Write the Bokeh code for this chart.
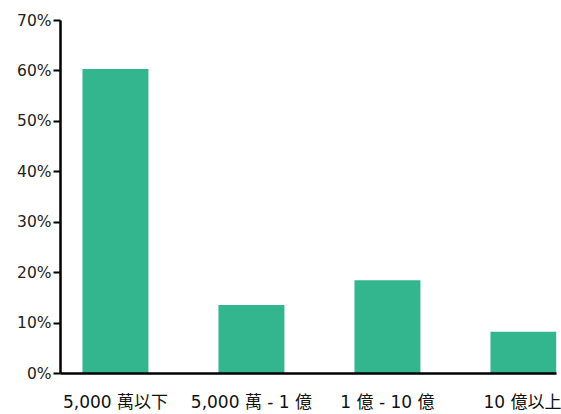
from bokeh.plotting import figure
from bokeh.models import Range1d, FixedTicker, ColumnDataSource
from bokeh.embed import file_html
from bokeh.resources import INLINE

# Share of companies by capital size
categories = ["5,000 萬以下", "5,000 萬 - 1 億", "1 億 - 10 億", "10 億以上"]
shares = [60.4, 13.6, 18.5, 8.3]
y_ticks = [0, 10, 20, 30, 40, 50, 60, 70]

positions = list(range(len(categories)))
src = ColumnDataSource(dict(x=positions, top=shares))

FONT = "'DejaVu Sans', 'Noto Sans CJK TC', sans-serif"

p = figure(width=561, height=414, output_backend="svg", toolbar_location=None,
           x_range=Range1d(-0.404, 3.243), y_range=Range1d(0, 70),
           min_border_left=60, min_border_right=5, min_border_top=20, min_border_bottom=39)

p.vbar(x="x", top="top", width=0.485, source=src, color="#33b58e", line_color=None)

p.outline_line_color = None
p.grid.grid_line_color = None

p.yaxis.ticker = FixedTicker(ticks=y_ticks)
p.yaxis.major_label_overrides = {t: f"{t}%" for t in y_ticks}
p.yaxis.minor_tick_line_color = None
p.yaxis.major_tick_out = 7
p.yaxis.major_tick_in = 0
p.yaxis.major_tick_line_width = 2
p.yaxis.axis_line_width = 2.5
p.yaxis.axis_line_color = "black"
p.yaxis.major_tick_line_color = "black"
p.yaxis.major_label_text_font = FONT
p.yaxis.major_label_text_font_size = "15.5px"
p.yaxis.major_label_text_color = "#222222"
p.yaxis.major_label_standoff = 2

p.xaxis.ticker = FixedTicker(ticks=positions)
p.xaxis.major_label_overrides = {i: c for i, c in enumerate(categories)}
p.xaxis.minor_tick_line_color = None
p.xaxis.major_tick_line_color = None
p.xaxis.axis_line_width = 2.5
p.xaxis.axis_line_color = "black"
p.xaxis.major_label_text_font = FONT
p.xaxis.major_label_text_font_size = "17px"
p.xaxis.major_label_text_color = "#111111"
p.xaxis.major_label_standoff = 12

open("out.html", "w").write(file_html(p, INLINE))
